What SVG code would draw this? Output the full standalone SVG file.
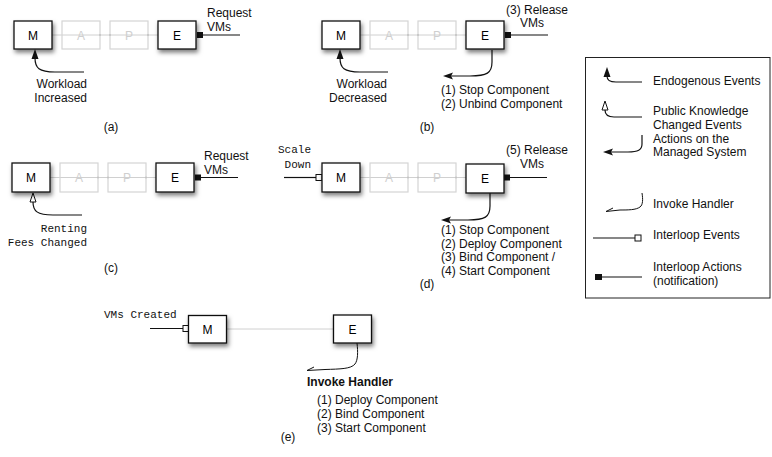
<svg xmlns="http://www.w3.org/2000/svg" width="772" height="457" viewBox="0 0 772 457">
<style>
.box{fill:#fff;stroke:#111;stroke-width:1.3;filter:url(#sh)}
.fbox{fill:none;stroke:#d4d4d4;stroke-width:1.2}
.nl{font-family:"Liberation Sans",Arial,sans-serif;font-size:12px;fill:#000;text-anchor:middle}
.fl{font-family:"Liberation Sans",Arial,sans-serif;font-size:12px;fill:#cfcfcf;text-anchor:middle}
.t{font-family:"Liberation Sans",Arial,sans-serif;font-size:12px;fill:#111}
.m{font-family:"Liberation Mono","Courier New",monospace;font-size:11px;fill:#111}
.b{font-weight:bold}
.chain{stroke:#d0d0d0;stroke-width:1;fill:none}
.ln{stroke:#111;stroke-width:1.2;fill:none}
.thin{stroke:#111;stroke-width:1;fill:none}
.dot{fill:#aaa}
</style>
<defs>
<filter id="sh" x="-30%" y="-30%" width="170%" height="180%">
<feDropShadow dx="1.5" dy="3" stdDeviation="2.2" flood-color="#000" flood-opacity="0.5"/>
</filter>
</defs>
<rect width="772" height="457" fill="#fff"/>

<!-- connectors -->
<g id="connectors">
<!-- panel a -->
<line class="chain" x1="52" y1="35" x2="158" y2="35"/>
<circle class="dot" cx="100" cy="35" r="1"/><circle class="dot" cx="110" cy="35" r="1"/><circle class="dot" cx="148" cy="35" r="1"/>
<rect x="197" y="32" width="6" height="6" fill="#111"/>
<line class="ln" x1="203" y1="35" x2="240" y2="35"/>
<path class="ln" d="M35 58 C35 68 39 72 55 72 L84 72"/>
<polygon points="35,49 31.5,59 38.5,59" fill="#111"/>
<!-- panel b -->
<line class="chain" x1="360" y1="35" x2="466" y2="35"/>
<circle class="dot" cx="408" cy="35" r="1"/><circle class="dot" cx="418" cy="35" r="1"/><circle class="dot" cx="456" cy="35" r="1"/>
<rect x="505" y="32" width="6" height="6" fill="#111"/>
<line class="ln" x1="511" y1="35" x2="548" y2="35"/>
<path class="ln" d="M340 58 C340 68 344 72 360 72 L388 72"/>
<polygon points="340,49 336.5,59 343.5,59" fill="#111"/>
<path class="ln" d="M492 50 L492 62 C492 73 487 76 470 76 L451 76"/>
<polygon points="443,76 453,72.5 451,76 453,79.5" fill="#111"/>
<!-- panel c -->
<line class="chain" x1="50" y1="177.5" x2="156" y2="177.5"/>
<circle class="dot" cx="98" cy="177.5" r="1"/><circle class="dot" cx="108" cy="177.5" r="1"/><circle class="dot" cx="146" cy="177.5" r="1"/>
<rect x="195" y="174.5" width="6" height="6" fill="#111"/>
<line class="ln" x1="201" y1="177.5" x2="238" y2="177.5"/>
<path class="ln" d="M33 202 C33 211 37 215 53 215 L82 215"/>
<polygon points="33,193 30,202 36,202" fill="#fff" stroke="#111" stroke-width="1"/>
<!-- panel d -->
<line class="chain" x1="360" y1="177.5" x2="466" y2="177.5"/>
<circle class="dot" cx="408" cy="177.5" r="1"/><circle class="dot" cx="418" cy="177.5" r="1"/><circle class="dot" cx="456" cy="177.5" r="1"/>
<line class="ln" x1="284" y1="177.5" x2="316" y2="177.5"/>
<rect x="316" y="174.5" width="6" height="6" fill="#fff" stroke="#111" stroke-width="1"/>
<rect x="504" y="174.5" width="6" height="6" fill="#111"/>
<line class="ln" x1="510" y1="177.5" x2="547" y2="177.5"/>
<path class="ln" d="M490 193 L490 206 C490 217 485 220 468 220 L449 220"/>
<polygon points="441,220 451,216.5 449,220 451,223.5" fill="#111"/>
<!-- panel e -->
<line class="chain" x1="227" y1="329" x2="333" y2="329"/>
<line class="ln" x1="150" y1="328.5" x2="183" y2="328.5"/>
<rect x="183" y="325.5" width="6" height="6" fill="#fff" stroke="#111" stroke-width="1"/>
<path class="thin" d="M357 343 C358 352 358 360 355 364 C351 369 340 369 325 369.5 L307 370.5 L314 367"/>
<!-- legend -->
<rect x="585.5" y="57.5" width="184.5" height="240.5" fill="none" stroke="#222" stroke-width="1"/>
<path class="ln" d="M607 76 C607 80 609 82 616 82 L642 82"/>
<polygon points="607,67 603.5,77 610.5,77" fill="#111"/>
<path class="ln" d="M605 110 C605 114 607 117 614 117 L642 117"/>
<polygon points="605,101 602,110 608,110" fill="#fff" stroke="#111" stroke-width="1"/>
<path class="ln" d="M642 135 L642 144 C642 150 638 152 628 152 L611 152"/>
<polygon points="603,152 613,148.5 611,152 613,155.5" fill="#111"/>
<path class="thin" d="M642 193 C643 199 643 205 640 207 C636 210 628 210 620 210 L606 211.5 L613 208"/>
<line class="ln" x1="593" y1="238" x2="635" y2="238"/>
<rect x="635" y="235" width="6" height="6" fill="#fff" stroke="#111" stroke-width="1"/>
<rect x="595" y="274" width="7" height="6" fill="#111"/>
<line class="ln" x1="602" y1="277" x2="642" y2="277"/>
</g>

<!-- panel a nodes -->
<g id="a-M"><rect class="box" x="14" y="21" width="38" height="28"/><text class="nl" x="33" y="39.5">M</text></g>
<g id="a-A"><rect class="fbox" x="62" y="21" width="38" height="28"/><text class="fl" x="81" y="39.5">A</text></g>
<g id="a-P"><rect class="fbox" x="110" y="21" width="38" height="28"/><text class="fl" x="129" y="39.5">P</text></g>
<g id="a-E"><rect class="box" x="158" y="21" width="38" height="28"/><text class="nl" x="177" y="39.5">E</text></g>
<g id="a-labels">
<text class="t" x="207" y="17">Request</text>
<text class="t" x="207" y="31">VMs</text>
<text class="t" x="87" y="88" text-anchor="end">Workload</text>
<text class="t" x="87" y="102" text-anchor="end">Increased</text>
<text class="t" x="111" y="131" text-anchor="middle">(a)</text>
</g>

<!-- panel b nodes -->
<g id="b-M"><rect class="box" x="322" y="21" width="38" height="28"/><text class="nl" x="341" y="39.5">M</text></g>
<g id="b-A"><rect class="fbox" x="370" y="21" width="38" height="28"/><text class="fl" x="389" y="39.5">A</text></g>
<g id="b-P"><rect class="fbox" x="418" y="21" width="38" height="28"/><text class="fl" x="437" y="39.5">P</text></g>
<g id="b-E"><rect class="box" x="466" y="21" width="38" height="28"/><text class="nl" x="485" y="39.5">E</text></g>
<g id="b-labels">
<text class="t" x="506" y="13.5">(3) Release</text>
<text class="t" x="520" y="27">VMs</text>
<text class="t" x="387" y="88" text-anchor="end">Workload</text>
<text class="t" x="387" y="102" text-anchor="end">Decreased</text>
<text class="t" x="441" y="93.5">(1) Stop Component</text>
<text class="t" x="441" y="107.5">(2) Unbind Component</text>
<text class="t" x="427" y="131" text-anchor="middle">(b)</text>
</g>

<!-- panel c nodes -->
<g id="c-M"><rect class="box" x="12" y="163" width="38" height="29"/><text class="nl" x="31" y="182">M</text></g>
<g id="c-A"><rect class="fbox" x="60" y="163" width="38" height="29"/><text class="fl" x="79" y="182">A</text></g>
<g id="c-P"><rect class="fbox" x="108" y="163" width="38" height="29"/><text class="fl" x="127" y="182">P</text></g>
<g id="c-E"><rect class="box" x="156" y="163" width="38" height="29"/><text class="nl" x="175" y="182">E</text></g>
<g id="c-labels">
<text class="t" x="204" y="160">Request</text>
<text class="t" x="204" y="174">VMs</text>
<text class="m" x="87" y="232" text-anchor="end">Renting</text>
<text class="m" x="87" y="246" text-anchor="end">Fees Changed</text>
<text class="t" x="111" y="272" text-anchor="middle">(c)</text>
</g>

<!-- panel d nodes -->
<g id="d-M"><rect class="box" x="322" y="163" width="38" height="29"/><text class="nl" x="341" y="182">M</text></g>
<g id="d-A"><rect class="fbox" x="370" y="163" width="38" height="29"/><text class="fl" x="389" y="182">A</text></g>
<g id="d-P"><rect class="fbox" x="418" y="163" width="38" height="29"/><text class="fl" x="437" y="182">P</text></g>
<g id="d-E"><rect class="box" x="466" y="164" width="38" height="29"/><text class="nl" x="485" y="183">E</text></g>
<g id="d-labels">
<text class="m" x="311" y="153" text-anchor="end">Scale</text>
<text class="m" x="311" y="168" text-anchor="end">Down</text>
<text class="t" x="506" y="154">(5) Release</text>
<text class="t" x="520" y="168">VMs</text>
<text class="t" x="441" y="233.5">(1) Stop Component</text>
<text class="t" x="441" y="247.5">(2) Deploy Component</text>
<text class="t" x="441" y="261">(3) Bind Component /</text>
<text class="t" x="441" y="274.5">(4) Start Component</text>
<text class="t" x="427" y="287.5" text-anchor="middle">(d)</text>
</g>

<!-- panel e nodes -->
<g id="e-M"><rect class="box" x="188.5" y="315.5" width="38" height="27.5"/><text class="nl" x="207.5" y="333.5">M</text></g>
<g id="e-E"><rect class="box" x="333.5" y="315" width="38" height="28"/><text class="nl" x="352.5" y="333.5">E</text></g>
<g id="e-labels">
<text class="m" x="104" y="318">VMs Created</text>
<text class="t b" x="307" y="386">Invoke Handler</text>
<text class="t" x="317" y="403.5">(1) Deploy Component</text>
<text class="t" x="317" y="417.5">(2) Bind Component</text>
<text class="t" x="317" y="432">(3) Start Component</text>
<text class="t" x="288" y="441" text-anchor="middle">(e)</text>
</g>

<!-- legend -->
<g id="legend">
<text class="t" x="653" y="85">Endogenous Events</text>
<text class="t" x="653" y="115">Public Knowledge</text>
<text class="t" x="653" y="128.5">Changed Events</text>
<text class="t" x="653" y="142.5">Actions on the</text>
<text class="t" x="653" y="156">Managed System</text>
<text class="t" x="653" y="207.5">Invoke Handler</text>
<text class="t" x="653" y="238.5">Interloop Events</text>
<text class="t" x="653" y="271">Interloop Actions</text>
<text class="t" x="653" y="284.5">(notification)</text>
</g>
</svg>
